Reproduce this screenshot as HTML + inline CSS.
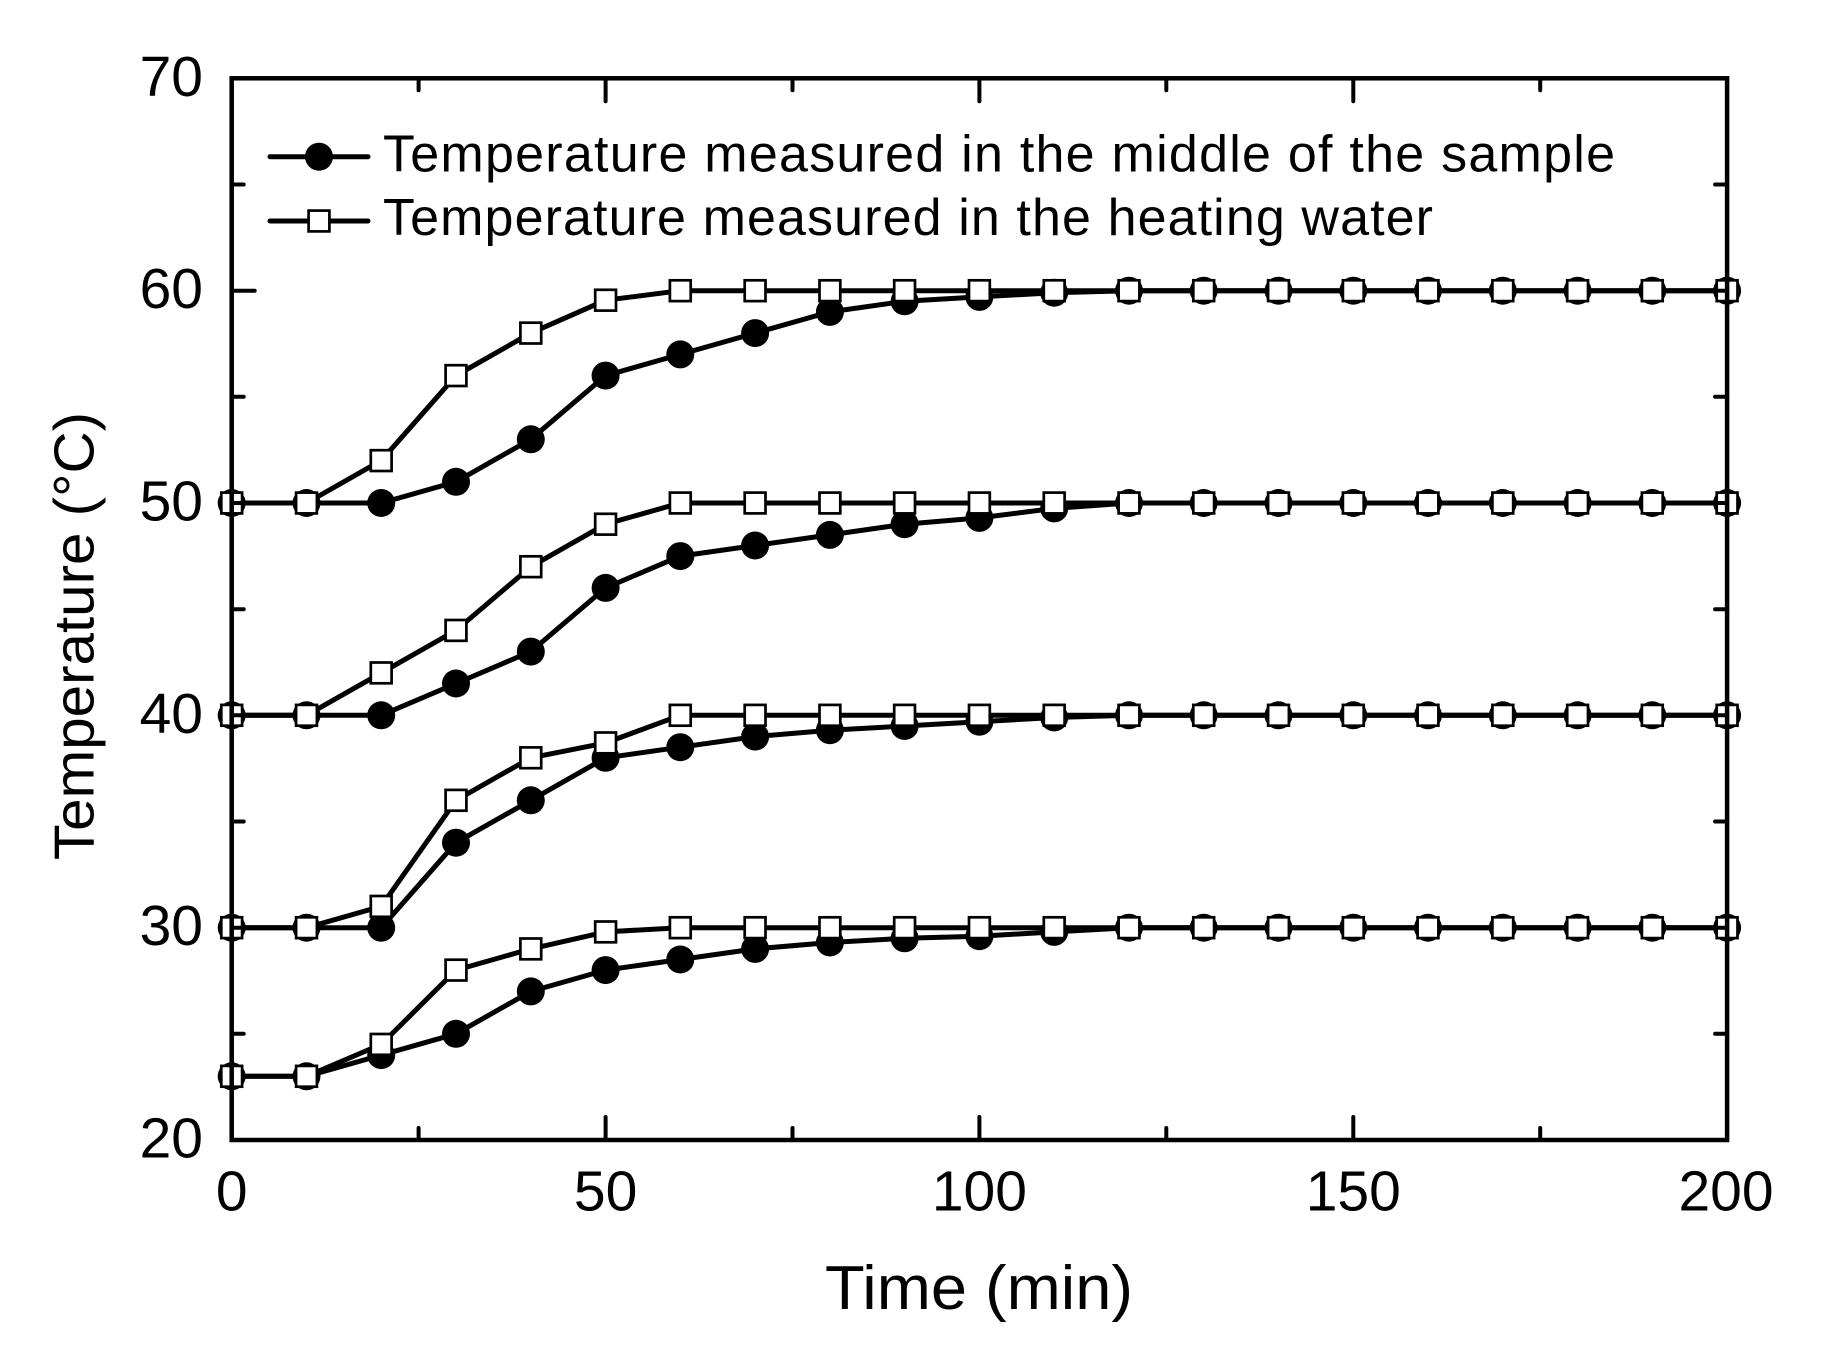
<!DOCTYPE html>
<html>
<head>
<meta charset="utf-8">
<style>
  html, body { margin: 0; padding: 0; background: #ffffff; }
  svg { display: block; }
  text { font-family: "Liberation Sans", Arial, sans-serif; fill: #000; }
</style>
</head>
<body>
<svg width="1833" height="1352" viewBox="0 0 1833 1352" xmlns="http://www.w3.org/2000/svg">
  <defs>
    <marker id="mc" markerUnits="userSpaceOnUse" markerWidth="32" markerHeight="32" refX="16" refY="16" overflow="visible">
      <circle cx="16" cy="16" r="14" fill="#000"/>
    </marker>
    <marker id="ms" markerUnits="userSpaceOnUse" markerWidth="32" markerHeight="32" refX="16" refY="16" overflow="visible">
      <rect x="5.6" y="5.6" width="20.8" height="20.8" fill="#fff" stroke="#000" stroke-width="2.7"/>
    </marker>
  </defs>
  <rect x="0" y="0" width="1833" height="1352" fill="#fff"/>

  <!-- circle series -->
  <g fill="none" stroke="#000" stroke-width="5" stroke-linejoin="round" marker-start="url(#mc)" marker-mid="url(#mc)" marker-end="url(#mc)">
    <polyline points="231.7,1076.3 306.5,1076.3 381.2,1055.1 456.0,1033.8 530.8,991.4 605.6,970.1 680.3,959.5 755.1,948.9 829.9,942.5 904.6,938.3 979.4,936.2 1054.2,931.9 1129.0,927.7 1203.7,927.7 1278.5,927.7 1353.3,927.7 1428.0,927.7 1502.8,927.7 1577.6,927.7 1652.3,927.7 1727.1,927.7"/>
    <polyline points="231.7,927.7 306.5,927.7 381.2,927.7 456.0,842.7 530.8,800.3 605.6,757.8 680.3,747.2 755.1,736.6 829.9,730.2 904.6,726.0 979.4,721.7 1054.2,717.5 1129.0,715.3 1203.7,715.3 1278.5,715.3 1353.3,715.3 1428.0,715.3 1502.8,715.3 1577.6,715.3 1652.3,715.3 1727.1,715.3"/>
    <polyline points="231.7,715.3 306.5,715.3 381.2,715.3 456.0,683.5 530.8,651.6 605.6,587.9 680.3,556.1 755.1,545.5 829.9,534.9 904.6,524.2 979.4,517.9 1054.2,508.4 1129.0,503.0 1203.7,503.0 1278.5,503.0 1353.3,503.0 1428.0,503.0 1502.8,503.0 1577.6,503.0 1652.3,503.0 1727.1,503.0"/>
    <polyline points="231.7,503.0 306.5,503.0 381.2,503.0 456.0,481.8 530.8,439.3 605.6,375.6 680.3,354.4 755.1,333.1 829.9,311.9 904.6,301.3 979.4,296.9 1054.2,292.7 1129.0,290.7 1203.7,290.7 1278.5,290.7 1353.3,290.7 1428.0,290.7 1502.8,290.7 1577.6,290.7 1652.3,290.7 1727.1,290.7"/>
  </g>

  <!-- square series -->
  <g fill="none" stroke="#000" stroke-width="5" stroke-linejoin="round" marker-start="url(#ms)" marker-mid="url(#ms)" marker-end="url(#ms)">
    <polyline points="231.7,1076.3 306.5,1076.3 381.2,1044.4 456.0,970.1 530.8,948.9 605.6,931.9 680.3,927.7 755.1,927.7 829.9,927.7 904.6,927.7 979.4,927.7 1054.2,927.7 1129.0,927.7 1203.7,927.7 1278.5,927.7 1353.3,927.7 1428.0,927.7 1502.8,927.7 1577.6,927.7 1652.3,927.7 1727.1,927.7"/>
    <polyline points="231.7,927.7 306.5,927.7 381.2,906.4 456.0,800.3 530.8,757.8 605.6,742.9 680.3,715.3 755.1,715.3 829.9,715.3 904.6,715.3 979.4,715.3 1054.2,715.3 1129.0,715.3 1203.7,715.3 1278.5,715.3 1353.3,715.3 1428.0,715.3 1502.8,715.3 1577.6,715.3 1652.3,715.3 1727.1,715.3"/>
    <polyline points="231.7,715.3 306.5,715.3 381.2,672.9 456.0,630.4 530.8,566.7 605.6,524.2 680.3,503.0 755.1,503.0 829.9,503.0 904.6,503.0 979.4,503.0 1054.2,503.0 1129.0,503.0 1203.7,503.0 1278.5,503.0 1353.3,503.0 1428.0,503.0 1502.8,503.0 1577.6,503.0 1652.3,503.0 1727.1,503.0"/>
    <polyline points="231.7,503.0 306.5,503.0 381.2,460.6 456.0,375.6 530.8,333.1 605.6,300.2 680.3,290.7 755.1,290.7 829.9,290.7 904.6,290.7 979.4,290.7 1054.2,290.7 1129.0,290.7 1203.7,290.7 1278.5,290.7 1353.3,290.7 1428.0,290.7 1502.8,290.7 1577.6,290.7 1652.3,290.7 1727.1,290.7"/>
  </g>

  <!-- axes frame -->
  <rect x="231.7" y="78.3" width="1495.4" height="1061.7" fill="none" stroke="#000" stroke-width="4.5"/>

  <!-- ticks -->
  <g stroke="#000" stroke-width="4" stroke-linecap="round">
    <line x1="605.6" y1="1140" x2="605.6" y2="1117"/>
    <line x1="979.4" y1="1140" x2="979.4" y2="1117"/>
    <line x1="1353.3" y1="1140" x2="1353.3" y2="1117"/>
    <line x1="418.6" y1="1140" x2="418.6" y2="1128"/>
    <line x1="792.5" y1="1140" x2="792.5" y2="1128"/>
    <line x1="1166.3" y1="1140" x2="1166.3" y2="1128"/>
    <line x1="1540.2" y1="1140" x2="1540.2" y2="1128"/>
    <line x1="605.6" y1="78.3" x2="605.6" y2="101.3"/>
    <line x1="979.4" y1="78.3" x2="979.4" y2="101.3"/>
    <line x1="1353.3" y1="78.3" x2="1353.3" y2="101.3"/>
    <line x1="418.6" y1="78.3" x2="418.6" y2="90.3"/>
    <line x1="792.5" y1="78.3" x2="792.5" y2="90.3"/>
    <line x1="1166.3" y1="78.3" x2="1166.3" y2="90.3"/>
    <line x1="1540.2" y1="78.3" x2="1540.2" y2="90.3"/>
    <line x1="231.7" y1="927.7" x2="254.7" y2="927.7"/>
    <line x1="231.7" y1="715.3" x2="254.7" y2="715.3"/>
    <line x1="231.7" y1="503.0" x2="254.7" y2="503.0"/>
    <line x1="231.7" y1="290.7" x2="254.7" y2="290.7"/>
    <line x1="231.7" y1="1033.8" x2="243.7" y2="1033.8"/>
    <line x1="231.7" y1="821.5" x2="243.7" y2="821.5"/>
    <line x1="231.7" y1="609.2" x2="243.7" y2="609.2"/>
    <line x1="231.7" y1="396.8" x2="243.7" y2="396.8"/>
    <line x1="231.7" y1="184.5" x2="243.7" y2="184.5"/>
    <line x1="1727.1" y1="927.7" x2="1704.1" y2="927.7"/>
    <line x1="1727.1" y1="715.3" x2="1704.1" y2="715.3"/>
    <line x1="1727.1" y1="503.0" x2="1704.1" y2="503.0"/>
    <line x1="1727.1" y1="290.7" x2="1704.1" y2="290.7"/>
    <line x1="1727.1" y1="1033.8" x2="1715.1" y2="1033.8"/>
    <line x1="1727.1" y1="821.5" x2="1715.1" y2="821.5"/>
    <line x1="1727.1" y1="609.2" x2="1715.1" y2="609.2"/>
    <line x1="1727.1" y1="396.8" x2="1715.1" y2="396.8"/>
    <line x1="1727.1" y1="184.5" x2="1715.1" y2="184.5"/>
  </g>

  <!-- y tick labels -->
  <g font-size="57" text-anchor="end">
    <text x="203" y="1157.5">20</text>
    <text x="203" y="945.2">30</text>
    <text x="203" y="732.8">40</text>
    <text x="203" y="520.5">50</text>
    <text x="203" y="308.2">60</text>
    <text x="203" y="95.8">70</text>
  </g>

  <!-- x tick labels -->
  <g font-size="57" text-anchor="middle">
    <text x="231.7" y="1210.5">0</text>
    <text x="605.6" y="1210.5">50</text>
    <text x="979.4" y="1210.5">100</text>
    <text x="1353.3" y="1210.5">150</text>
    <text x="1726" y="1210.5">200</text>
  </g>

  <!-- axis titles -->
  <text x="825" y="1309" font-size="62" textLength="308" lengthAdjust="spacingAndGlyphs">Time (min)</text>
  <text transform="translate(93.5,636) rotate(-90)" font-size="57" text-anchor="middle" textLength="448" lengthAdjust="spacingAndGlyphs">Temperature (°C)</text>

  <!-- legend -->
  <line x1="270" y1="156.7" x2="368" y2="156.7" stroke="#000" stroke-width="5" stroke-linecap="round"/>
  <circle cx="319" cy="156.7" r="14" fill="#000"/>
  <text x="383" y="171.7" font-size="52" textLength="1232" lengthAdjust="spacing">Temperature measured in the middle of the sample</text>

  <line x1="270" y1="221" x2="368" y2="221" stroke="#000" stroke-width="5" stroke-linecap="round"/>
  <rect x="308.6" y="210.6" width="20.8" height="20.8" fill="#fff" stroke="#000" stroke-width="2.7"/>
  <text x="383" y="235" font-size="52" textLength="1050" lengthAdjust="spacing">Temperature measured in the heating water</text>
</svg>
</body>
</html>
